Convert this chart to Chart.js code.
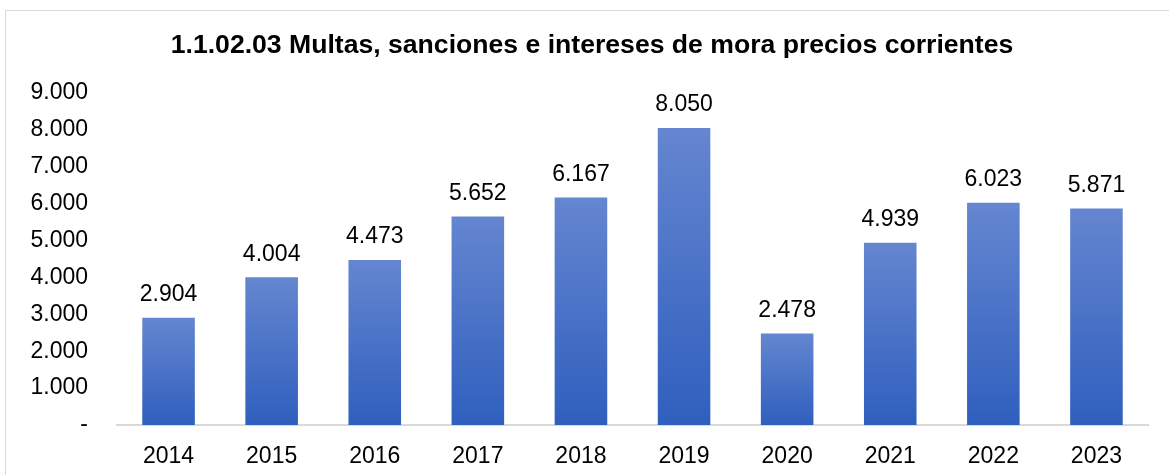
<!DOCTYPE html>
<html>
<head>
<meta charset="utf-8">
<script src="https://cdn.jsdelivr.net/npm/chart.js@4.4.1/dist/chart.umd.min.js"></script>
<style>
  html, body { margin: 0; padding: 0; background: #fff; }
  #wrap { width: 1169px; height: 475px; }
</style>
</head>
<body>
<div id="wrap"><canvas id="grafico" width="1169" height="475"></canvas></div>
<script>
// datos del gráfico
var anios = ['2014', '2015', '2016', '2017', '2018', '2019', '2020', '2021', '2022', '2023'];
var valores = [2904, 4004, 4473, 5652, 6167, 8050, 2478, 4939, 6023, 5871];
var titulo = '1.1.02.03 Multas, sanciones e intereses de mora precios corrientes';

var fuente = '"Liberation Sans", Arial, sans-serif';

function formato(v) {
    if (v === 0) return '-';
    return v.toLocaleString('de-DE');
}

// marco gris, título y etiquetas de valores
var extras = {
    id: 'extras',
    beforeDraw: function (chart) {
        var ctx = chart.ctx;
        ctx.save();
        ctx.strokeStyle = '#d9d9d9';
        ctx.lineWidth = 1;
        ctx.strokeRect(5.5, 10.5, 1200, 500);
        ctx.font = 'bold 26.6px ' + fuente;
        ctx.fillStyle = '#000';
        ctx.textAlign = 'center';
        ctx.textBaseline = 'middle';
        ctx.fillText(titulo, 592, 46);
        ctx.restore();
    },
    afterDatasetsDraw: function (chart) {
        var ctx = chart.ctx;
        var meta = chart.getDatasetMeta(0);
        ctx.save();
        ctx.font = '23px ' + fuente;
        ctx.fillStyle = '#000';
        ctx.textAlign = 'center';
        ctx.textBaseline = 'middle';
        meta.data.forEach(function (bar, i) {
            ctx.fillText(formato(valores[i]), bar.x, bar.y - 23);
        });
        ctx.restore();
    }
};

var ctx = document.getElementById('grafico').getContext('2d');
var grafico = new Chart(ctx, {
    type: 'bar',
    data: {
        labels: anios,
        datasets: [{
            data: valores,
            backgroundColor: function (c) {
                var chart = c.chart;
                if (!chart.chartArea) return '#4472c4';
                var yTop = chart.scales.y.getPixelForValue(valores[c.dataIndex]);
                var yBot = chart.scales.y.getPixelForValue(0);
                var g = chart.ctx.createLinearGradient(0, yTop, 0, yBot);
                g.addColorStop(0, '#6586d0');
                g.addColorStop(1, '#2f5fbe');
                return g;
            },
            borderWidth: 0,
            categoryPercentage: 1,
            barPercentage: 0.51
        }]
    },
    plugins: [extras],
    options: {
        responsive: false,
        animation: false,
        layout: { padding: { left: 0, right: 21, top: 93, bottom: 0 } },
        plugins: {
            legend: { display: false },
            tooltip: { enabled: false },
            title: { display: false }
        },
        scales: {
            x: {
                grid: { display: false, drawTicks: false },
                border: { display: true, color: '#d9d9d9', width: 2 },
                ticks: {
                    color: '#000',
                    padding: 18,
                    font: { family: fuente, size: 23 }
                },
                afterFit: function (s) { s.height = 50; }
            },
            y: {
                min: 0,
                max: 9000,
                grid: { display: false, drawTicks: false },
                border: { display: false },
                ticks: {
                    stepSize: 1000,
                    color: '#000',
                    padding: 29,
                    font: { family: fuente, size: 23 },
                    callback: function (v) { return formato(v); }
                },
                afterFit: function (s) { s.width = 117; }
            }
        }
    }
});
</script>
</body>
</html>
